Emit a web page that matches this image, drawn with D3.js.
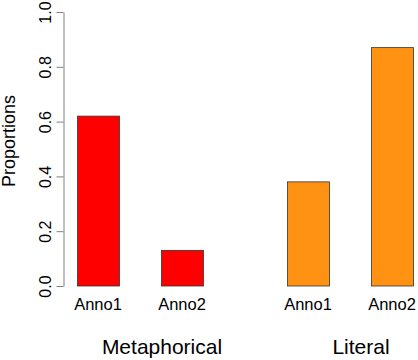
<!DOCTYPE html>
<html>
<head>
<meta charset="utf-8">
<script src="https://cdn.jsdelivr.net/npm/d3@7"></script>
<style>
  body { margin: 0; background: #fff; }
  text { font-family: "Liberation Sans", Arial, sans-serif; fill: #000; }
</style>
</head>
<body>
<div id="chart"></div>
<script>
var groups = ["Metaphorical", "Literal"];
var annotators = ["Anno1", "Anno2"];
var metaphoricalValues = [0.62, 0.13];
var literalValues = [0.38, 0.87];
var groupColors = ["#ff0000", "#ff9212"];
var yTicks = [0, 0.2, 0.4, 0.6, 0.8, 1.0];

function drawProportions(placement, w, h) {
    var width = w, height = h;
    var seriesValues = [metaphoricalValues, literalValues];
    var data = groups.map(function(g, i) {
        return { group: g, color: groupColors[i],
                 bars: annotators.map(function(a, j) { return { name: a, value: seriesValues[i][j] }; }) };
    });

    var svg = d3.select(placement).append("svg")
        .attr("width", width).attr("height", height);

    var x0 = d3.scaleBand()
        .domain(groups)
        .range([77, 413])
        .paddingInner(0.4)
        .paddingOuter(0);

    var x1 = d3.scaleBand()
        .domain(annotators)
        .range([0, x0.bandwidth()])
        .paddingInner(0.5)
        .paddingOuter(0);

    var y = d3.scaleLinear()
        .domain([0, 1])
        .range([286, 12]);

    // y axis
    var yAxis = d3.axisLeft(y)
        .tickValues(yTicks)
        .tickFormat(d3.format(".1f"))
        .tickSizeInner(7)
        .tickSizeOuter(0)
        .tickPadding(12);

    var ag = svg.append("g")
        .attr("transform", "translate(63.5,0)")
        .call(yAxis);
    ag.select(".domain").attr("stroke", "#808080");
    ag.selectAll(".tick line").attr("stroke", "#808080");
    ag.selectAll(".tick text")
        .attr("font-size", "16px")
        .attr("fill", "#000")
        .attr("transform", "rotate(-90)")
        .attr("text-anchor", "middle")
        .attr("x", 0)
        .attr("dy", "0")
        .attr("y", -13);

    svg.append("text")
        .attr("transform", "translate(15,141) rotate(-90)")
        .attr("text-anchor", "middle")
        .attr("font-size", "18px")
        .text("Proportions");

    // bars
    var grp = svg.selectAll(".grp")
        .data(data)
        .enter().append("g")
        .attr("class", "grp")
        .attr("transform", function(d) { return "translate(" + x0(d.group) + ",0)"; });

    grp.selectAll("rect")
        .data(function(d) { return d.bars.map(function(b) { return { name: b.name, value: b.value, color: d.color }; }); })
        .enter().append("rect")
        .attr("x", function(d) { return x1(d.name) + 0.5; })
        .attr("width", x1.bandwidth())
        .attr("y", function(d) { return y(d.value); })
        .attr("height", function(d) { return y(0) - y(d.value); })
        .attr("fill", function(d) { return d.color; })
        .attr("stroke", "#333")
        .attr("stroke-width", 0.8);

    grp.selectAll(".anno")
        .data(annotators)
        .enter().append("text")
        .attr("class", "anno")
        .attr("x", function(d) { return x1(d) + x1.bandwidth() / 2; })
        .attr("y", 310)
        .attr("text-anchor", "middle")
        .attr("font-size", "16.5px")
        .text(function(d) { return d; });

    var labelShift = [22, 11];
    svg.selectAll(".glabel")
        .data(groups)
        .enter().append("text")
        .attr("class", "glabel")
        .attr("x", function(d, i) { return x0(d) + x0.bandwidth() / 2 + labelShift[i]; })
        .attr("y", 354)
        .attr("text-anchor", "middle")
        .attr("font-size", "21px")
        .text(function(d) { return d; });
}

drawProportions("#chart", 418, 360);
</script>
</body>
</html>
